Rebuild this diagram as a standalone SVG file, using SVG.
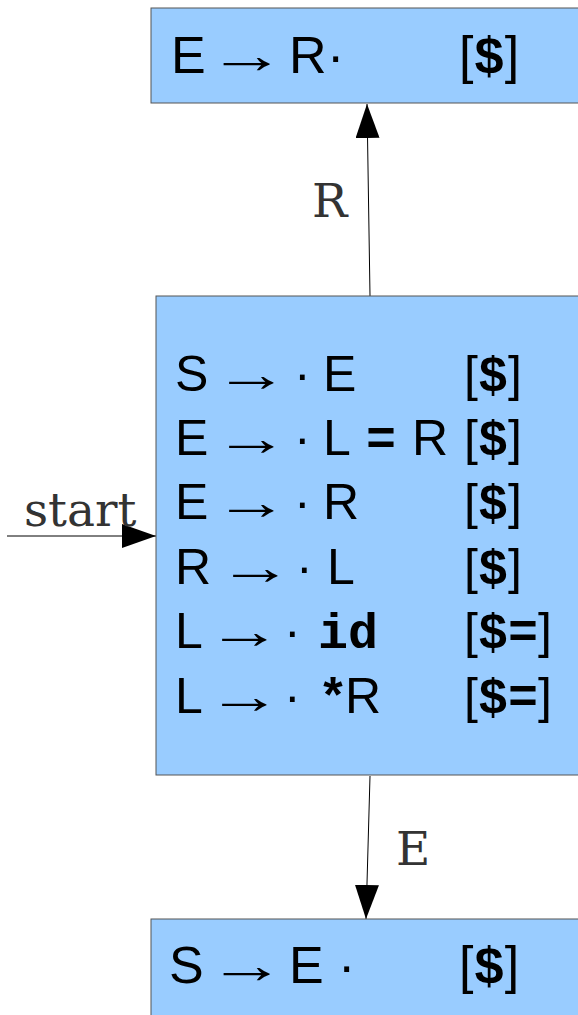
<svg xmlns="http://www.w3.org/2000/svg" width="578" height="1015" viewBox="0 0 578 1015">
<style>
.box{fill:#99ccff;stroke:#555;stroke-width:1}
.t{font-family:"Liberation Sans",Arial,sans-serif;fill:#000}
.b{font-family:"Liberation Mono","Courier New",monospace;font-weight:bold}
.lbl{font-family:"DejaVu Serif",serif;font-size:47px;fill:#333}
.c{stroke:#000;stroke-width:1;fill:none}
</style>
<defs>
<marker id="ah" markerWidth="34" markerHeight="24" refX="34" refY="12" orient="auto" markerUnits="userSpaceOnUse">
<path d="M0,0 L34,12 L0,24 Z" fill="#000"/>
</marker>
</defs>
<g id="connectors">
<line class="c" x1="7" y1="536" x2="156" y2="536" marker-end="url(#ah)"/>
<line class="c" x1="370" y1="296" x2="367" y2="104" marker-end="url(#ah)"/>
<line class="c" x1="370" y1="776" x2="366" y2="919" marker-end="url(#ah)"/>
<text class="lbl" x="24" y="526">start</text>
<text class="lbl" x="312" y="217">R</text>
<text class="lbl" x="396" y="865">E</text>
</g>
<g id="state-top">
<rect class="box" x="151" y="8" width="440" height="95"/>
<g class="t" font-size="52">
<text x="171" y="73">E</text>
<text transform="translate(208,73) scale(1.5,1)">→</text>
<text x="289" y="73">R</text>
<text x="327" y="73">·</text>
<text x="459" y="73">[<tspan class="b">$</tspan>]</text>
</g>
</g>
<g id="state-main">
<rect class="box" x="156" y="296" width="440" height="479"/>
<g class="t" font-size="50">
<text x="175" y="391">S</text>
<text transform="translate(214,391) scale(1.5,1)">→</text>
<text x="294" y="391">·</text>
<text x="323" y="391">E</text>
<text x="464" y="391">[<tspan class="b">$</tspan>]</text>

<text x="175" y="455">E</text>
<text transform="translate(214,455) scale(1.5,1)">→</text>
<text x="294" y="455">·</text>
<text x="323" y="455">L</text>
<text class="b" x="366" y="455">=</text>
<text x="412" y="455">R</text>
<text x="464" y="455">[<tspan class="b">$</tspan>]</text>

<text x="175" y="519">E</text>
<text transform="translate(214,519) scale(1.5,1)">→</text>
<text x="294" y="519">·</text>
<text x="323" y="519">R</text>
<text x="464" y="519">[<tspan class="b">$</tspan>]</text>

<text x="175" y="584">R</text>
<text transform="translate(218,584) scale(1.5,1)">→</text>
<text x="296" y="584">·</text>
<text x="327" y="584">L</text>
<text x="464" y="584">[<tspan class="b">$</tspan>]</text>

<text x="175" y="648">L</text>
<text transform="translate(207,648) scale(1.5,1)">→</text>
<text x="284" y="648">·</text>
<text class="b" x="318" y="648">id</text>
<text x="464" y="648">[<tspan class="b">$=</tspan>]</text>

<text x="175" y="713">L</text>
<text transform="translate(207,713) scale(1.5,1)">→</text>
<text x="284" y="713">·</text>
<text class="b" x="318" y="713">*</text>
<text x="345" y="713">R</text>
<text x="464" y="713">[<tspan class="b">$=</tspan>]</text>
</g>
</g>
<g id="state-bottom">
<rect class="box" x="151" y="919" width="440" height="110"/>
<g class="t" font-size="52">
<text x="169" y="983">S</text>
<text transform="translate(208,983) scale(1.5,1)">→</text>
<text x="289" y="983">E</text>
<text x="338" y="983">·</text>
<text x="459" y="983">[<tspan class="b">$</tspan>]</text>
</g>
</g>
</svg>
